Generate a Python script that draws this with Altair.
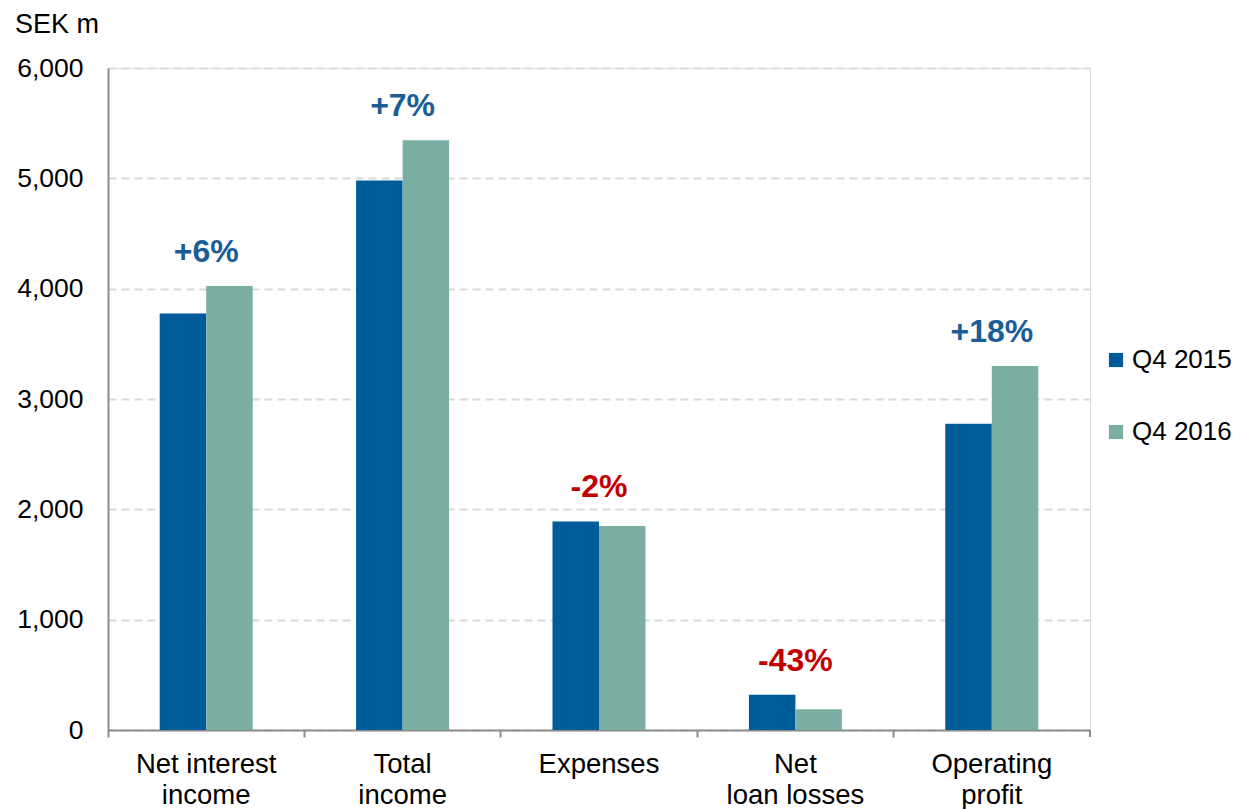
import altair as alt
import pandas as pd

categories = ["Net interest|income", "Total|income", "Expenses", "Net|loan losses", "Operating|profit"]
series = ["Q4 2015", "Q4 2016"]
q4_2015 = [3775, 4980, 1890, 320, 2775]
q4_2016 = [4025, 5345, 1850, 188, 3300]
changes = ["+6%", "+7%", "-2%", "-43%", "+18%"]

colors = ["#005B99", "#7BAFA3"]
FONT = "Liberation Sans"
W, H = 982, 662

rows = []
for c, a, b in zip(categories, q4_2015, q4_2016):
    rows.append({"category": c, "series": series[0], "value": a})
    rows.append({"category": c, "series": series[1], "value": b})
bars_df = pd.DataFrame(rows)

lab_df = pd.DataFrame({
    "category": categories,
    "change": changes,
    "top": [max(a, b) for a, b in zip(q4_2015, q4_2016)],
})

x_scale = alt.Scale(domain=categories, paddingInner=0, paddingOuter=0)

bars = alt.Chart(bars_df).mark_bar().encode(
    x=alt.X("category:N", sort=categories, scale=x_scale,
            axis=alt.Axis(title=None, bandPosition=0,
                          labelExpr="split(datum.label, '|')",
                          labelAngle=0, labelFontSize=27.5, labelFont=FONT,
                          labelColor="#000000", labelLineHeight=31,
                          labelPadding=13, labelBaseline="top",
                          tickSize=7, tickColor="#8C8C8C", tickWidth=2,
                          domainColor="#8C8C8C", domainWidth=2, grid=False)),
    xOffset=alt.XOffset("series:N", scale=alt.Scale(domain=series, paddingInner=0, paddingOuter=0,
                                                    range=[51.7, 144.7])),
    y=alt.Y("value:Q", scale=alt.Scale(domain=[0, 6000], nice=False),
            axis=alt.Axis(title=None, values=[0, 1000, 2000, 3000, 4000, 5000, 6000],
                          format=",d", ticks=False, labelFontSize=26.5, labelFont=FONT,
                          labelColor="#000000", labelPadding=25,
                          domainColor="#8C8C8C", domainWidth=2,
                          grid=True, gridColor="#D9D9D9", gridDash=[8, 5], gridWidth=2)),
    color=alt.Color("series:N", scale=alt.Scale(domain=series, range=colors),
                    legend=alt.Legend(title=None, orient="none", legendX=995, legendY=279,
                                      symbolType="square", symbolSize=200, symbolStrokeWidth=0,
                                      labelFontSize=26, labelFont=FONT, labelColor="#000000",
                                      labelOffset=3, rowPadding=46)),
)

labels = alt.Chart(lab_df).mark_text(
    font=FONT, fontSize=32, fontWeight="bold", baseline="middle", dy=-34
).encode(
    x=alt.X("category:N", sort=categories, scale=x_scale, bandPosition=0.5),
    y=alt.Y("top:Q"),
    text="change:N",
    color=alt.condition("indexof(datum.change, '-') == 0", alt.value("#C00000"), alt.value("#1A5E98")),
)

# closing tick at the right end of the category axis
end_tick = alt.Chart(pd.DataFrame({"k": [0]})).mark_rule(color="#8C8C8C", strokeWidth=2).encode(
    x=alt.value(W), y=alt.value(H), y2=alt.value(H + 7)
)

chart = alt.layer(bars, labels, end_tick).properties(
    width=W, height=H,
    autosize=alt.AutoSizeParams(type="none"),
    padding={"left": 108, "top": 68, "right": 150, "bottom": 79},
    title=alt.TitleParams("SEK m", anchor="start", frame="group", dx=-93, offset=16,
                          fontSize=27, font=FONT, fontWeight="normal", color="#000000"),
).configure_view(stroke=None).configure(background="white")

chart.save("out.html", embed_options={"renderer": "svg", "actions": False})
